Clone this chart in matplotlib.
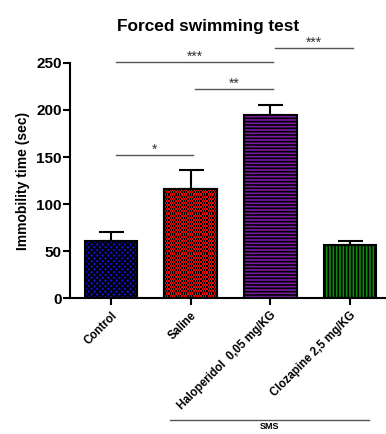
import numpy as np
import matplotlib
matplotlib.use("Agg")
import matplotlib.pyplot as plt
from matplotlib.colors import ListedColormap

plt.rcParams['font.family'] = ['Liberation Sans', 'DejaVu Sans']
plt.rcParams['hatch.linewidth'] = 1.2

# data
groups = ['Control', 'Saline', 'Haloperidol  0,05 mg/KG', 'Clozapine 2,5 mg/KG']
means = [61, 116, 195, 56]
sem = [9, 20, 10, 5]
colors = ['#1010c8', '#ff0000', '#7a1aa0', '#0a8a0a']
yticks = [0, 50, 100, 150, 200, 250]

# significance brackets: (from, to, height, label)
sig = [(0, 1, 152, '*'), (0, 2, 251, '***'), (1, 2, 222, '**'), (2, 3, 266, '***')]

fig = plt.figure(figsize=(3.86, 4.34), dpi=100)
ax = fig.add_axes([0.181, 0.313, 0.819, 0.542])

x = np.arange(len(groups))
bars = ax.bar(x, means, width=0.66, color=colors, edgecolor='black', linewidth=1.5, zorder=2)
bars[0].set_hatch('xxxxxx')
bars[2].set_hatch('-----')
bars[3].set_hatch('|||||')

# checkerboard fill for saline
b = bars[1]
x0, y0, w, h = b.get_x(), b.get_y(), b.get_width(), b.get_height()
p0 = ax.transData.transform((x0, y0))
p1 = ax.transData.transform((x0 + w, y0 + h))
nx = max(1, int(round((p1[0] - p0[0]) / 3.4)))
ny = max(1, int(round((p1[1] - p0[1]) / 3.4)))
chk = (np.add.outer(np.arange(ny), np.arange(nx)) % 2).astype(float)
mesh = ax.pcolormesh(np.linspace(x0, x0 + w, nx + 1), np.linspace(y0, y0 + h, ny + 1), chk,
                     cmap=ListedColormap([colors[1], 'black']), shading='flat',
                     antialiased=False, zorder=2.5)
ax.bar(x[1], means[1], width=0.66, color='none', edgecolor='black', linewidth=1.5, zorder=3)

ax.errorbar(x, means, yerr=[np.zeros(len(sem)), sem], fmt='none', ecolor='black',
            elinewidth=1.5, capsize=9, capthick=1.5, zorder=1)

ax.set_xlim(-0.514, 3.45)
ax.set_ylim(0, 250)
ax.set_yticks(yticks)
ax.set_xticks(x)
ax.set_xticklabels(groups, rotation=45, ha='right', rotation_mode='anchor',
                   fontsize=8.3, fontweight='bold')
for lab in ax.get_yticklabels():
    lab.set_fontweight('bold')
ax.tick_params(axis='y', labelsize=11, width=1.5, length=5, pad=1)
ax.tick_params(axis='x', width=1.5, length=5, pad=3)
ax.spines['top'].set_visible(False)
ax.spines['right'].set_visible(False)
ax.spines['left'].set_linewidth(1.5)
ax.spines['bottom'].set_linewidth(1.5)
ax.set_ylabel('Immobility time (sec)', fontsize=10, fontweight='bold', labelpad=4)

for a, b2, hh, lab in sig:
    ax.plot([a + 0.06, b2 + 0.03], [hh, hh], color='#555555', lw=1, clip_on=False)
    ax.text((a + b2) / 2 + 0.05, hh - 2, lab, ha='center', va='bottom', fontsize=10,
            color='#333333', clip_on=False)

fig.text(208 / 386, 1 - 27 / 434, 'Forced swimming test', ha='center', va='center',
         fontsize=12.4, fontweight='bold')

# SMS group bracket
trans = ax.get_xaxis_transform()
ax.plot([0.74, 3.24], [-0.52, -0.52], color='#555555', lw=1, transform=trans, clip_on=False)
ax.text(1.99, -0.527, 'SMS', ha='center', va='top', fontsize=6.5, fontweight='bold',
        transform=trans, clip_on=False)

fig.savefig('out.png', dpi=100)
